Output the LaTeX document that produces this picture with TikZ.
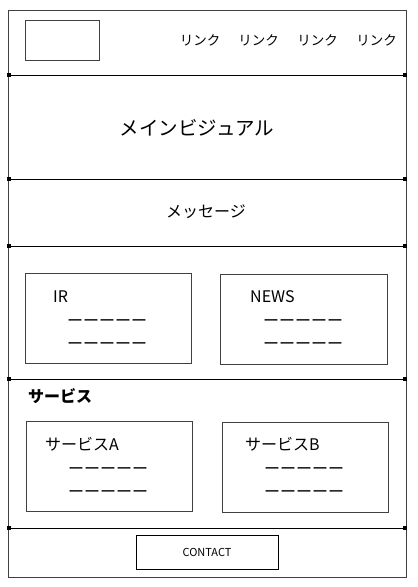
\documentclass[tikz,border=0pt]{standalone}
\usepackage{fontspec}
\setmainfont{Noto Sans CJK JP}
\begin{document}
\begin{tikzpicture}[x=1pt,y=-1pt,
  frame/.style={draw=black!75,line width=1pt},
  box/.style={draw=black!75,line width=1pt,inner sep=0pt,anchor=north west},
  sep/.style={draw=black,line width=1pt},
  dot/.style={fill=black,minimum size=4pt,inner sep=0pt,draw=none},
  txt/.style={inner sep=0pt,text=black},
  dashrow/.style={inner sep=0pt,font=\fontsize{16}{16}\selectfont},
  lnk/.style={inner sep=0pt,font=\fontsize{13.5}{14}\selectfont}]
\useasboundingbox (0,0) rectangle (418,587);
% outer frame
\draw[frame] (8.5,10.5) rectangle (406.5,577.5);
% separators
\foreach \yy/\nm in {75/a,179/b,246/c,379/d,528/e}{
  \node[dot] (l\nm) at (9,\yy) {};
  \node[dot] (r\nm) at (405,\yy) {};
  \draw[sep] (l\nm.center) -- (r\nm.center);
}
% header
\node[box,minimum width=74pt,minimum height=40pt] (logo) at (25,20) {};
\node[lnk] (k1) at (200,40.5) {リンク};
\node[lnk] (k2) at (258.5,40.5) {リンク};
\node[lnk] (k3) at (317.5,40.5) {リンク};
\node[lnk] (k4) at (376.5,40.5) {リンク};
% main visual
\node[txt,font=\fontsize{19.5}{20}\selectfont] (mv) at (197,128) {メインビジュアル};
\node[txt,font=\fontsize{16}{16}\selectfont] (msg) at (206,212) {メッセージ};
% IR / NEWS
\node[box,minimum width=166pt,minimum height=90pt] (ir) at (25,273) {};
\node[box,minimum width=167pt,minimum height=90pt] (news) at (220,274) {};
\node[txt,anchor=west,font=\fontsize{16}{16}\selectfont] (irt) at (53,297) {IR};
\node[txt,anchor=west,font=\fontsize{16}{16}\selectfont] (newst) at (250,297) {NEWS};
\node[dashrow] (ird1) at (107,323.5) {ーーーーー};
\node[dashrow] (ird2) at (107,346.5) {ーーーーー};
\node[dashrow] (nwd1) at (303,323.5) {ーーーーー};
\node[dashrow] (nwd2) at (303,346.5) {ーーーーー};
% services
\node[txt,anchor=west,font=\fontsize{16}{16}\selectfont\bfseries] (svc) at (28,396) {サービス};
\node[box,minimum width=166pt,minimum height=90pt] (sa) at (26,421) {};
\node[box,minimum width=166pt,minimum height=90pt] (sb) at (222,422) {};
\node[txt,anchor=west,font=\fontsize{16}{16}\selectfont] (sat) at (45,444) {サービスA};
\node[txt,anchor=west,font=\fontsize{16}{16}\selectfont] (sbt) at (245,444) {サービスB};
\node[dashrow] (sad1) at (108,471.5) {ーーーーー};
\node[dashrow] (sad2) at (108,494.5) {ーーーーー};
\node[dashrow] (sbd1) at (304,471.5) {ーーーーー};
\node[dashrow] (sbd2) at (304,494.5) {ーーーーー};
% contact
\node[box,draw=black,minimum width=142pt,minimum height=34pt] (ct) at (136,535) {};
\node[txt,font=\fontsize{11}{11}\selectfont] (ctt) at (207,552) {CONTACT};
\end{tikzpicture}
\end{document}
